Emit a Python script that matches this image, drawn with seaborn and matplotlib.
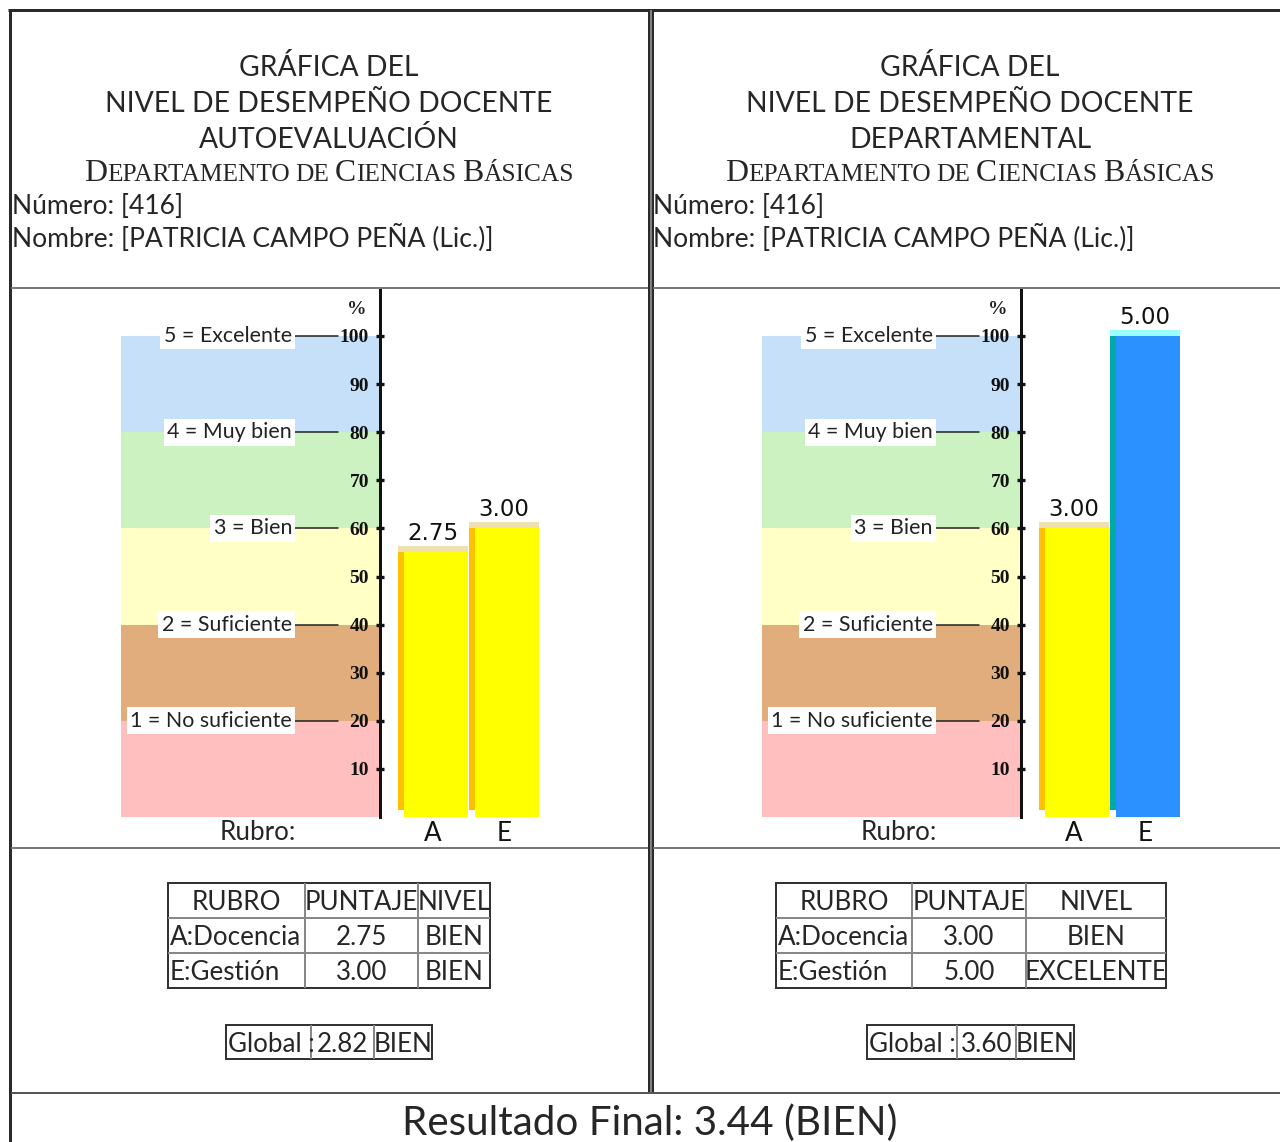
import matplotlib
matplotlib.use("Agg")
import matplotlib.pyplot as plt
import seaborn as sns
import pandas as pd
from matplotlib.patches import Rectangle

# ---------------- data ----------------
categories = ["A", "E"]
rubro_names = ["A:Docencia", "E:Gestión"]
auto_scores = [2.75, 3.00]
auto_levels = ["BIEN", "BIEN"]
dept_scores = [3.00, 5.00]
dept_levels = ["BIEN", "EXCELENTE"]
auto_global = 2.82
auto_global_level = "BIEN"
dept_global = 3.60
dept_global_level = "BIEN"
final_score = 3.44
final_level = "BIEN"
band_bounds = [0, 20, 40, 60, 80, 100]
band_labels = ["1 = No suficiente", "2 = Suficiente", "3 = Bien", "4 = Muy bien", "5 = Excelente"]
band_colors = ["#FFBFBF", "#E2AD7D", "#FFFFC6", "#CCF2C2", "#C6E0F9"]
pct_ticks = [10, 20, 30, 40, 50, 60, 70, 80, 90, 100]
level_colors = {"BIEN": ("#FFFF00", "#FFC000", "#EEE0B0"),
                "EXCELENTE": ("#2A91FF", "#00AAAA", "#99FFFF")}
titles = ["AUTOEVALUACIÓN", "DEPARTAMENTAL"]
numero = "Número: [416]"
nombre = "Nombre: [PATRICIA CAMPO PEÑA (Lic.)]"

sns.set_theme(style="white")
plt.rcParams["font.family"] = ["Lato", "DejaVu Sans"]

W, H = 1280, 1142
fig = plt.figure(figsize=(12.8, 11.42), dpi=100)
fig.patch.set_facecolor("white")
bg = fig.add_axes([0, 0, 1, 1])
bg.set_xlim(0, W)
bg.set_ylim(H, 0)
bg.axis("off")
renderer = fig.canvas.get_renderer()
PT = 72 / 100.0  # points per pixel


def measure(s, size, **kw):
    t = bg.text(0, 0, s, fontsize=size, **kw)
    w = t.get_window_extent(renderer).width
    t.remove()
    return w


def fit_size(s, width, **kw):
    return 20 * width / measure(s, 20, **kw)


def hline(y, x0, x1, color, lw):
    bg.plot([x0, x1], [y, y], color=color, lw=lw * PT, solid_capstyle="butt")


def vline(x, y0, y1, color, lw):
    bg.plot([x, x], [y0, y1], color=color, lw=lw * PT, solid_capstyle="butt")


# ---------------- frame ----------------
hline(10, 8, W, "#2a2a2a", 3)
vline(9.5, 8.5, H, "#2a2a2a", 3)
vline(648.5, 10, 1093, "#2a2a2a", 2)
vline(650.5, 10, 1093, "#808080", 2)
vline(652.5, 10, 1093, "#2a2a2a", 2)
hline(288, 11, 648, "#777777", 2)
hline(288, 653, W, "#777777", 2)
hline(848, 11, 648, "#777777", 2)
hline(848, 653, W, "#777777", 2)
hline(1093, 11, W, "#555555", 2)

# ---------------- font sizes ----------------
fs_title = fit_size("NIVEL DE DESEMPEÑO DOCENTE", 444)
fs_info = fit_size(nombre, 481)
fs_tab = fit_size("A:Docencia", 131)
fs_band = fit_size("5 = Excelente", 128)
fs_final = fit_size(f"Resultado Final: {final_score:.2f} ({final_level})", 495)


def small_caps(xc, ybase, words, width, family="Liberation Serif", ratio=0.8):
    def total(S):
        tot = 0
        for big, small in words:
            if big:
                tot += measure(big, S, family=family)
            tot += measure(small, S * ratio, family=family)
        return tot + 0.26 * S * (len(words) - 1)
    S = 20 * width / total(20)
    x = xc - total(S) / 2
    for i, (big, small) in enumerate(words):
        if big:
            t = bg.text(x, ybase, big, fontsize=S, family=family, va="baseline", ha="left")
            x += t.get_window_extent(renderer).width
        t = bg.text(x, ybase, small, fontsize=S * ratio, family=family, va="baseline", ha="left")
        x += t.get_window_extent(renderer).width
        x += 0.26 * S


def draw_table(xe, ye, rows, first_left):
    for r, row in enumerate(rows):
        yb = ye[r] + (ye[r + 1] - ye[r]) / 2 + 9.5
        for c, txt in enumerate(row):
            if c == 0 and first_left[r]:
                bg.text(xe[c] + 2, yb, txt, ha="left", va="baseline", fontsize=fs_tab)
            else:
                bg.text((xe[c] + xe[c + 1]) / 2, yb, txt, ha="center", va="baseline", fontsize=fs_tab)
    for x in xe[1:-1]:
        vline(x, ye[0], ye[-1], "#888888", 2)
    for y in ye[1:-1]:
        hline(y, xe[0], xe[-1], "#888888", 2)
    bg.add_patch(Rectangle((xe[0], ye[0]), xe[-1] - xe[0], ye[-1] - ye[0],
                           fill=False, ec="#333333", lw=2 * PT))


PXY = 481 / 100.0   # pixels per percent
PXX = 71.0          # pixels per category step


def panel(off, title, scores, levels, tab_x, glob_x, gscore, glevel):
    cx = 329 + off
    bg.text(cx, 76, "GRÁFICA DEL", ha="center", va="baseline", fontsize=fs_title)
    bg.text(cx, 112, "NIVEL DE DESEMPEÑO DOCENTE", ha="center", va="baseline", fontsize=fs_title)
    bg.text(cx, 148, title, ha="center", va="baseline", fontsize=fs_title)
    small_caps(cx, 181, [("D", "EPARTAMENTO"), ("", "DE"), ("C", "IENCIAS"), ("B", "ÁSICAS")], 491)
    bg.text(12 + off, 214, numero, ha="left", va="baseline", fontsize=fs_info)
    bg.text(12 + off, 247, nombre, ha="left", va="baseline", fontsize=fs_info)

    # chart axes
    L, R, T, B = 121 + off, 545 + off, 290, 817
    ax = fig.add_axes([L / W, 1 - B / H, (R - L) / W, (B - T) / H])
    ax.patch.set_alpha(0)
    a_center = 433 + off

    def dx(px):
        return (px - a_center) / PXX

    df = pd.DataFrame({"rubro": categories, "pct": [s * 20 for s in scores]})
    pal = {c: level_colors[l][0] for c, l in zip(categories, levels)}
    sns.barplot(data=df, x="rubro", y="pct", hue="rubro", palette=pal, width=0.986,
                saturation=1, legend=False, linewidth=0, ax=ax)
    bars = list(ax.patches)
    ax.set_xlim(dx(L), dx(R))
    ax.set_ylim(0, (B - T) / PXY)

    for bar, s, l in zip(bars, scores, levels):
        x0, w, h = bar.get_x(), bar.get_width(), bar.get_height()
        _, side, top = level_colors[l]
        ax.add_patch(Rectangle((x0, 1.5), 6 / PXX, h - 1.5, color=side, lw=0, zorder=3))
        ax.add_patch(Rectangle((x0, 0), 6 / PXX, 1.5, color="white", lw=0, zorder=3))
        ax.add_patch(Rectangle((x0, h), w, 6 / PXY, color=top, lw=0, zorder=3))
        ax.text(x0 + w / 2, h + 12 / PXY, f"{s:.2f}", ha="center", va="baseline",
                fontsize=16.5, family="DejaVu Sans", color="#111111")

    frac = (380 + off - L) / (R - L)
    for lo, hi, c in zip(band_bounds[:-1], band_bounds[1:], band_colors):
        ax.axhspan(lo, hi, xmin=0, xmax=frac, color=c, lw=0, zorder=0)
    for y, lab in zip(band_bounds[1:], band_labels):
        ax.plot([dx(292 + off), dx(338 + off)], [y, y], color="#222222", lw=1.1, zorder=3)
        ax.text(dx(292 + off), y, lab, ha="right", va="center", fontsize=fs_band, color="#222222",
                zorder=4, bbox=dict(fc="white", ec="none", pad=2.5))
    ax.text(dx(357 + off), (B - 310) / PXY, "%", ha="center", va="center",
            family="Liberation Serif", fontweight="bold", fontsize=14, color="#222222")

    for sp in ["top", "right", "bottom"]:
        ax.spines[sp].set_visible(False)
    ax.spines["left"].set_position(("data", dx(380 + off)))
    ax.spines["left"].set_color("#111111")
    ax.spines["left"].set_linewidth(3 * PT)
    ax.set_yticks(pct_ticks)
    ax.set_yticklabels([str(t) for t in pct_ticks])
    ax.tick_params(axis="y", direction="inout", length=6, width=2.4, pad=5,
                   colors="#111111", left=True)
    for lbl in ax.get_yticklabels():
        lbl.set_fontfamily("Liberation Serif")
        lbl.set_fontweight("bold")
        lbl.set_fontsize(14)
    ax.tick_params(axis="x", length=0, pad=3, labelsize=fs_tab, colors="#111111")
    ax.set_xlabel("")
    ax.set_ylabel("")
    bg.text(258 + off, 840, "Rubro:", ha="center", va="baseline", fontsize=fs_tab)

    # tables
    rows = [["RUBRO", "PUNTAJE", "NIVEL"]]
    for n, s, l in zip(rubro_names, scores, levels):
        rows.append([n, f"{s:.2f}", l])
    draw_table(tab_x, [883, 918, 953, 988], rows, [False, True, True])
    draw_table(glob_x, [1025, 1059], [["Global :", f"{gscore:.2f}", glevel]], [True])


panel(0, titles[0], auto_scores, auto_levels, [168, 305, 418, 490],
      [226, 311, 374, 432], auto_global, auto_global_level)
panel(641, titles[1], dept_scores, dept_levels, [776, 912, 1026, 1166],
      [867, 957, 1016, 1074], dept_global, dept_global_level)

bg.text(650, 1135, f"Resultado Final: {final_score:.2f} ({final_level})", ha="center",
        va="baseline", fontsize=fs_final)

fig.savefig("out.png", dpi=100, facecolor="white")
